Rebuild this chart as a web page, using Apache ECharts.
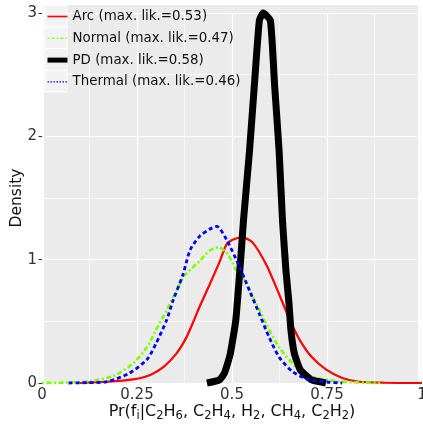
<!DOCTYPE html>
<html>
<head>
<meta charset="utf-8">
<script src="https://cdn.jsdelivr.net/npm/echarts@6/dist/echarts.min.js"></script>
<style>html,body{margin:0;padding:0;background:#fff;}#c{width:423px;height:426px;}</style>
</head>
<body>
<div id="c"></div>
<script>
// ---- data ----
const seriesNames = ['Arc (max. lik.=0.53)', 'Normal (max. lik.=0.47)', 'PD (max. lik.=0.58)', 'Thermal (max. lik.=0.46)'];

const arcX = [0.10, 0.17, 0.24, 0.285, 0.32, 0.354, 0.38, 0.40, 0.415, 0.44, 0.467, 0.485, 0.50, 0.528, 0.554, 0.59, 0.624, 0.655, 0.68, 0.71, 0.747, 0.79, 0.834, 0.90, 1.0];
const arcY = [0, 0.01, 0.03, 0.065, 0.13, 0.24, 0.37, 0.51, 0.62, 0.79, 0.98, 1.12, 1.16, 1.18, 1.14, 0.96, 0.72, 0.49, 0.34, 0.21, 0.11, 0.04, 0.01, 0.002, 0];

const normalX = [0, 0.06, 0.127, 0.19, 0.24, 0.276, 0.30, 0.328, 0.354, 0.375, 0.415, 0.44, 0.465, 0.49, 0.51, 0.53, 0.564, 0.59, 0.624, 0.668, 0.70, 0.774, 0.85, 0.89];
const normalY = [0, 0.003, 0.015, 0.06, 0.16, 0.29, 0.43, 0.59, 0.75, 0.87, 0.99, 1.07, 1.10, 1.04, 0.92, 0.85, 0.645, 0.48, 0.29, 0.13, 0.06, 0.015, 0.003, 0];

const pdX = [0.434, 0.467, 0.48, 0.495, 0.51, 0.524, 0.53, 0.546, 0.559, 0.572, 0.582, 0.601, 0.612, 0.624, 0.633, 0.642, 0.65, 0.655, 0.664, 0.68, 0.71, 0.747];
const pdY = [0, 0.025, 0.08, 0.23, 0.51, 1.05, 1.31, 1.88, 2.42, 2.94, 3.0, 2.94, 2.42, 1.88, 1.31, 0.91, 0.645, 0.43, 0.24, 0.105, 0.025, 0];

const thermalX = [0.07, 0.12, 0.17, 0.23, 0.276, 0.30, 0.328, 0.345, 0.37, 0.39, 0.415, 0.44, 0.46, 0.486, 0.52, 0.546, 0.572, 0.598, 0.624, 0.66, 0.70, 0.75, 0.79];
const thermalY = [0, 0.003, 0.01, 0.08, 0.19, 0.32, 0.51, 0.67, 0.87, 1.08, 1.19, 1.245, 1.27, 1.16, 0.94, 0.75, 0.56, 0.37, 0.21, 0.09, 0.03, 0.008, 0];

const xTicks = [0, 0.25, 0.5, 0.75, 1];
const yTicks = [0, 1, 2, 3];

function zip(xs, ys) { return xs.map((x, i) => [x, ys[i]]); }

const FONT = 'DejaVu Sans';
const chart = echarts.init(document.getElementById('c'), null, {renderer: 'canvas'});

const keyBoxes = [0, 1, 2, 3].map(i => ({
  type: 'rect', z: 3,
  shape: {x: 45, y: 5.5 + i * 21.6, width: 22, height: 21.6},
  style: {fill: '#F2F2F2', stroke: '#FFFFFF', lineWidth: 1}
}));

const hiddenSym = {color: 'rgba(0,0,0,0)', borderColor: 'rgba(0,0,0,0)', borderWidth: 0, opacity: 0};

const option = {
  animation: false,
  backgroundColor: '#FFFFFF',
  textStyle: {fontFamily: FONT},
  graphic: [
    {type: 'rect', z: -10, silent: true, shape: {x: 44, y: 5, width: 374, height: 379}, style: {fill: '#EBEBEB'}}
  ].concat(keyBoxes),
  grid: {left: 42, top: 13, width: 380, height: 370, containLabel: false, outerBoundsMode: 'none'},
  legend: {
    orient: 'vertical', left: 45, top: 10, padding: 0,
    itemWidth: 20, itemHeight: 14, itemGap: 8.8,
    textStyle: {fontFamily: FONT, fontSize: 13.4, color: '#111'},
    data: [
      {name: seriesNames[0], itemStyle: hiddenSym, lineStyle: {width: 1.6, color: '#FF0000', type: 'solid', opacity: 1}},
      {name: seriesNames[1], itemStyle: hiddenSym, lineStyle: {width: 1.1, color: '#7FFF00', type: [2, 1.5, 4, 1.5], opacity: 1}},
      {name: seriesNames[2], itemStyle: hiddenSym, lineStyle: {width: 5, color: '#000000', type: 'solid', opacity: 1}},
      {name: seriesNames[3], itemStyle: hiddenSym, lineStyle: {width: 1.1, color: '#0000FF', type: [1.5, 1.5], opacity: 1}}
    ]
  },
  xAxis: {
    type: 'value', min: 0, max: 1, interval: 0.25,
    name: 'Pr(f{s|i}|C{s|2}H{s|6}, C{s|2}H{s|4}, H{s|2}, CH{s|4}, C{s|2}H{s|2})',
    nameLocation: 'middle', nameGap: 19, nameMoveOverlap: false,
    nameTextStyle: {
      fontFamily: FONT, fontSize: 16, color: '#111', lineHeight: 20,
      rich: {s: {fontFamily: FONT, fontSize: 11.5, color: '#111', verticalAlign: 'bottom', lineHeight: 20}}
    },
    axisLine: {show: false},
    axisTick: {show: false},
    axisLabel: {fontFamily: FONT, fontSize: 15, color: '#333', margin: 5},
    splitLine: {show: true, lineStyle: {color: '#FFFFFF', width: 1.2}},
    minorTick: {show: false, splitNumber: 2},
    minorSplitLine: {show: true, lineStyle: {color: '#FFFFFF', width: 0.6}}
  },
  yAxis: {
    type: 'value', min: 0, max: 3, interval: 1,
    name: 'Density', nameLocation: 'middle', nameGap: 17, nameRotate: 90, nameMoveOverlap: false,
    nameTextStyle: {fontFamily: FONT, fontSize: 15.5, color: '#111'},
    axisLine: {show: false},
    axisTick: {show: true, length: 3.5, lineStyle: {color: '#333', width: 1}},
    axisLabel: {fontFamily: FONT, fontSize: 15, color: '#333', margin: 5},
    splitLine: {show: true, lineStyle: {color: '#FFFFFF', width: 1.2}},
    minorTick: {show: false, splitNumber: 2},
    minorSplitLine: {show: true, lineStyle: {color: '#FFFFFF', width: 0.6}}
  },
  series: [
    {name: seriesNames[0], type: 'line', data: zip(arcX, arcY), showSymbol: false, symbol: 'none', smooth: 0.25, clip: false,
      lineStyle: {color: '#FF0000', width: 2.2, type: 'solid'}, itemStyle: {color: '#FF0000'}, z: 2},
    {name: seriesNames[1], type: 'line', data: zip(normalX, normalY), showSymbol: false, symbol: 'none', smooth: 0.25, clip: false,
      lineStyle: {color: '#7FFF00', width: 2.6, type: [2, 2.5, 5, 2.5]}, itemStyle: {color: '#7FFF00'}, z: 2},
    {name: seriesNames[2], type: 'line', data: zip(pdX, pdY), showSymbol: false, symbol: 'none', smooth: 0.15, clip: false,
      lineStyle: {color: '#000000', width: 7, type: 'solid', join: 'round'}, itemStyle: {color: '#000000'}, z: 2},
    {name: seriesNames[3], type: 'line', data: zip(thermalX, thermalY), showSymbol: false, symbol: 'none', smooth: 0.25, clip: false,
      lineStyle: {color: '#0000FF', width: 2.8, type: [4, 3]}, itemStyle: {color: '#0000FF'}, z: 2}
  ]
};
chart.setOption(option);
</script>
</body>
</html>
